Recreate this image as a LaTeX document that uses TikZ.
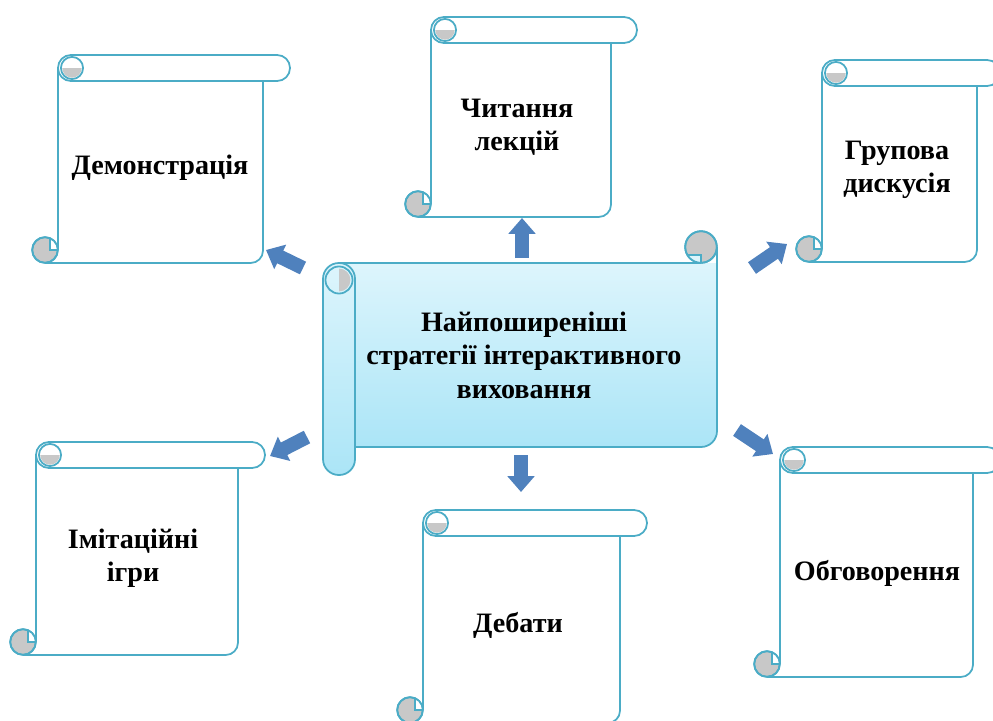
\documentclass[tikz,border=0pt]{standalone}
\usepackage{fontspec}
\setmainfont{Liberation Serif}
\usetikzlibrary{arrows.meta}

\definecolor{scrlblue}{HTML}{4BACC6}
\definecolor{curlgray}{HTML}{C8C8C8}
\definecolor{arrblue}{HTML}{4F81BD}
\definecolor{mainTop}{HTML}{DDF5FC}
\definecolor{mainBot}{HTML}{ABE5F7}

% vertical scroll: left, top, bar right, body right, bottom
\newcommand{\vscroll}[5]{%
  \draw[scrl, rounded corners=7pt] ({#1-13},#5) -- (#4,#5) -- (#4,{#2+26});
  \draw[scrl] (#1,{#2+13}) -- (#1,{#5-13});
  \draw[scrl, fill=white, rounded corners=7.3pt] (#1,#2) rectangle (#3,{#2+26});
  \begin{scope}
    \clip (#1,{#2+13}) rectangle ({#1+28},{#2+26});
    \fill[curlgray] ({#1+14},{#2+13}) circle (5.5pt);
  \end{scope}
  \draw[scrl] ({#1+14},{#2+13}) circle (6.3pt);
  \draw[scrl, fill=curlgray] ({#1-13},{#5-13}) circle (7.3pt);
  \begin{scope}
    \clip ({#1-13},{#5-13}) circle (7.3pt);
    \fill[white] ({#1-8},{#5-13}) rectangle (#1,{#5-28});
  \end{scope}
  \draw[scrl] ({#1-13},{#5-13}) circle (7.3pt);
  \draw[scrl] (#1,{#5-13}) -- ({#1-8},{#5-13}) -- ({#1-8},{#5-25});
}

\tikzset{
  scrl/.style={draw=scrlblue, line width=1pt},
  lbl/.style={font=\bfseries\fontsize{16}{19}\selectfont, align=center},
  blockarr/.style={draw=arrblue, line width=8pt, -{Triangle[width=15pt, length=9pt]}}
}

\begin{document}
\begin{tikzpicture}[x=0.02cm, y=-0.02cm]
  \useasboundingbox (0,0) rectangle (993,720);

  % outer scrolls
  \vscroll{58}{55}{290}{263}{263}
  \vscroll{431}{17}{637}{611}{217}
  \vscroll{822}{60}{1000}{977}{262}
  \vscroll{36}{442}{265}{238}{655}
  \vscroll{423}{510}{647}{620}{723}
  \vscroll{780}{447}{1000}{973}{677}

  % main scroll body
  \shade[top color=mainTop, bottom color=mainBot] (339,263) -- (717,263) -- (717,431)
    arc[start angle=0, end angle=90, radius=16] -- (339,447) -- cycle;
  \draw[scrl] (339,263) -- (701,263);
  \draw[scrl] (717,247) -- (717,431) arc[start angle=0, end angle=90, radius=16] -- (355,447);
  % left roll
  \shadedraw[top color=mainTop, bottom color=mainBot, scrl, rounded corners=9pt]
    (323,263) rectangle (355,475);
  \begin{scope}
    \clip (339,263) rectangle (355,297);
    \fill[curlgray] (339,280) circle (6.5pt);
  \end{scope}
  \draw[scrl] (339,280) circle (7.7pt);
  % top right curl
  \draw[scrl, fill=curlgray] (701,247) circle (9pt);
  \begin{scope}
    \clip (701,247) circle (9pt);
    \fill[mainTop] (683,255) rectangle (701,263);
  \end{scope}
  \draw[scrl] (701,247) circle (9pt);
  \draw[scrl] (701,263) -- (701,255) -- (687,255);

  % labels
  \node[lbl] (main) at (524,355) {Найпоширеніші\\стратегії інтерактивного\\виховання};
  \node[lbl] (demo) at (160,168) {Демонстрація};
  \node[lbl] (lect) at (517,127) {Читання\\лекцій};
  \node[lbl] (disc) at (897,170) {Групова\\дискусія};
  \node[lbl] (game) at (133,558) {Імітаційні\\ігри};
  \node[lbl] (deb) at (518,625) {Дебати};
  \node[lbl] (talk) at (877,573) {Обговорення};

  % arrows
  \coordinate (lectS) at (522,258);  \coordinate (lectT) at (522,218);
  \coordinate (debS) at (521,455);   \coordinate (debT) at (521,492);
  \coordinate (demoS) at (303,268);  \coordinate (demoT) at (266,250);
  \coordinate (discS) at (752,268);  \coordinate (discT) at (787,244);
  \coordinate (gameS) at (307,437);  \coordinate (gameT) at (270,456);
  \coordinate (talkS) at (737,430);  \coordinate (talkT) at (773,454);
  \foreach \a in {lect,deb,demo,disc,game,talk}
    \draw[blockarr] (\a S) -- (\a T);
\end{tikzpicture}
\end{document}
